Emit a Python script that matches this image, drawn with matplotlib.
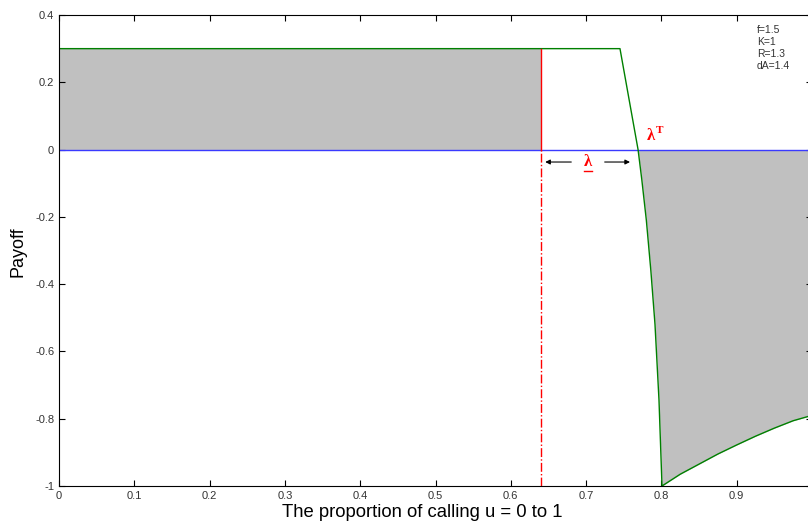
import numpy as np
import matplotlib.pyplot as plt

plt.rcParams['font.family'] = ['Liberation Sans', 'DejaVu Sans']

# payoff curve
u_pts = [0.0, 0.745, 0.757, 0.769, 0.774, 0.780, 0.786, 0.7915, 0.7968, 0.8008, 0.825, 0.85, 0.875, 0.90, 0.925, 0.95, 0.975, 1.0]
payoff = [0.3, 0.3, 0.15, 0.0, -0.09, -0.21, -0.36, -0.52, -0.745, -1.0, -0.965, -0.935, -0.905, -0.878, -0.852, -0.828, -0.806, -0.79]
lam = 0.64
lam_T = 0.769
params = ['f=1.5', 'K=1', 'R=1.3', 'dA=1.4']
xticks = [0, 0.1, 0.2, 0.3, 0.4, 0.5, 0.6, 0.7, 0.8, 0.9]
yticks = [-1, -0.8, -0.6, -0.4, -0.2, 0, 0.2, 0.4]

u = np.array(u_pts)
p = np.array(payoff)

fig = plt.figure(figsize=(8.08, 5.25), dpi=100)
ax = fig.add_axes([59/808, 1-486/525, 753/808, 471/525])

# grey regions
ax.fill_between([0, lam], 0, 0.3, color='#c0c0c0', lw=0)
mask = u >= lam_T
ax.fill_between(u[mask], p[mask], 0, color='#c0c0c0', lw=0)

ax.plot([0, 1], [0, 0], color='#3a3aff', lw=1)
ax.plot(u, p, color='#008000', lw=1)
ax.plot([lam, lam], [0, 0.3], color='#ff0000', lw=1)
ax.plot([lam, lam], [-1, 0], color='#ff0000', lw=1, ls='-.')

# lambda arrows
ax.annotate('', xy=(0.642, -0.037), xytext=(0.684, -0.037),
            arrowprops=dict(arrowstyle='-|>', color='black', lw=0.8, mutation_scale=7))
ax.annotate('', xy=(0.762, -0.037), xytext=(0.721, -0.037),
            arrowprops=dict(arrowstyle='-|>', color='black', lw=0.8, mutation_scale=7))
ax.text(0.7025, -0.036, 'λ', color='red', fontsize=12, fontweight='bold',
        ha='center', va='center', family='Liberation Serif')
ax.plot([0.697, 0.708], [-0.064, -0.064], color='red', lw=1)
ax.text(0.786, 0.039, 'λ', color='red', fontsize=12, fontweight='bold',
        ha='center', va='center', family='Liberation Serif')
ax.text(0.7925, 0.058, 'T', color='red', fontsize=8, fontweight='bold',
        ha='left', va='center', family='Liberation Serif')

for i, s in enumerate(params):
    ax.text(0.927, 0.355 - i * 0.0357, s, fontsize=7.5, color='#333333', va='center')

ax.set_xlim(0, 1)
ax.set_ylim(-1, 0.4)
ax.set_xticks(xticks)
ax.set_xticklabels([f'{t:g}' for t in xticks])
ax.set_yticks(yticks)
ax.set_yticklabels([f'{t:g}' for t in yticks])
ax.tick_params(direction='in', top=True, right=True, labelsize=8, labelcolor='#333333', length=4)
ax.set_xlabel('The proportion of calling u = 0 to 1', fontsize=13.3)
ax.set_ylabel('Payoff', fontsize=13)
ax.xaxis.set_label_coords(0.483, -0.057)
ax.yaxis.set_label_coords(-0.054, 0.497)
ax.xaxis.label.set_va('center')
ax.yaxis.label.set_va('center')

fig.savefig('out.png', dpi=100)
